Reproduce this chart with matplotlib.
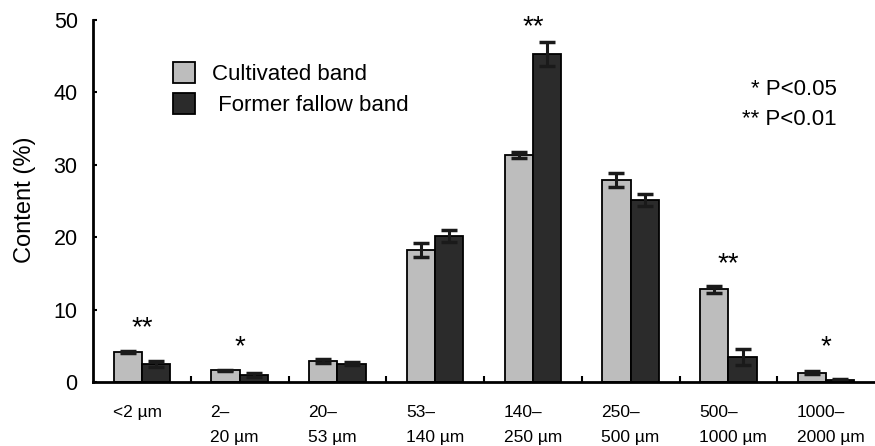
import matplotlib
matplotlib.use("Agg")
import matplotlib.pyplot as plt
import matplotlib.transforms as mtransforms
from matplotlib.patches import Patch
import numpy as np

plt.rcParams['font.family'] = ['Liberation Sans', 'DejaVu Sans']

# data
categories = ["<2 µm", "2–\n20 µm", "20–\n53 µm", "53–\n140 µm",
              "140–\n250 µm", "250–\n500 µm", "500–\n1000 µm", "1000–\n2000 µm"]
cultivated = [4.2, 1.6, 2.9, 18.2, 31.4, 27.9, 12.8, 1.3]
cultivated_err = [0.15, 0.1, 0.3, 1.0, 0.4, 0.9, 0.5, 0.25]
fallow = [2.5, 1.0, 2.5, 20.2, 45.3, 25.1, 3.5, 0.3]
fallow_err = [0.45, 0.25, 0.2, 0.8, 1.7, 0.8, 1.1, 0.1]
signif = ["**", "*", "", "", "**", "", "**", "*"]
signif_y = [6.5, 3.9, 0, 0, 48.0, 0, 15.3, 3.8]

x = np.arange(len(categories))
w = 0.29

fig = plt.figure(figsize=(8.75, 4.46), dpi=100)
ax = fig.add_axes([93/875, 1-382/446, 1-93/875, 362/446])

err_kw = dict(ecolor='#1a1a1a', elinewidth=2.2, capsize=6, capthick=2.5)
ax.bar(x - w/2, cultivated, w, yerr=cultivated_err, color='#bdbdbd',
       edgecolor='black', linewidth=1.3, error_kw=err_kw)
ax.bar(x + w/2, fallow, w, yerr=fallow_err, color='#2b2b2b',
       edgecolor='black', linewidth=1.3, error_kw=err_kw)

for i, s in enumerate(signif):
    if s:
        ax.text(x[i], signif_y[i], s, ha='center', va='baseline', fontsize=20,
                clip_on=False)

ax.set_xlim(-0.5, 7.5)
ax.set_ylim(0, 50)
ax.set_yticks([0, 10, 20, 30, 40, 50])
ax.tick_params(axis='y', labelsize=15.5, direction='in', length=3, width=1.5, pad=11)
ax.set_xticks([])
ax.set_xticks(np.arange(0.5, 7, 1), minor=True)
ax.tick_params(axis='x', which='minor', direction='in', length=4, width=1.5)
ax.set_ylabel("Content (%)", fontsize=17)
ax.yaxis.set_label_coords(-0.073, 0.503)

for side in ['top', 'right']:
    ax.spines[side].set_visible(False)
for side in ['left', 'bottom']:
    ax.spines[side].set_linewidth(2)

# category labels, left aligned under each pair
trans = mtransforms.blended_transform_factory(ax.transData, ax.transAxes)
for i, lab in enumerate(categories):
    ax.text(x[i] - 0.3, -0.063, lab, transform=trans, ha='left', va='top',
            fontsize=12.5, linespacing=1.85)

handles = [Patch(facecolor='#bdbdbd', edgecolor='black', linewidth=1.3),
           Patch(facecolor='#2b2b2b', edgecolor='black', linewidth=1.3)]
fig.legend(handles, ["Cultivated band", " Former fallow band"], loc='upper left',
           bbox_to_anchor=(173/875, 1-62/446), frameon=False, fontsize=16,
           borderpad=0, borderaxespad=0, handlelength=1.0, handleheight=1.1,
           handletextpad=0.75, labelspacing=0.35)

fig.text(837/875, 1-95/446, "* P<0.05", ha='right', va='baseline', fontsize=16)
fig.text(837/875, 1-125/446, "** P<0.01", ha='right', va='baseline', fontsize=16)

fig.savefig("out.png", dpi=100, facecolor='white')
